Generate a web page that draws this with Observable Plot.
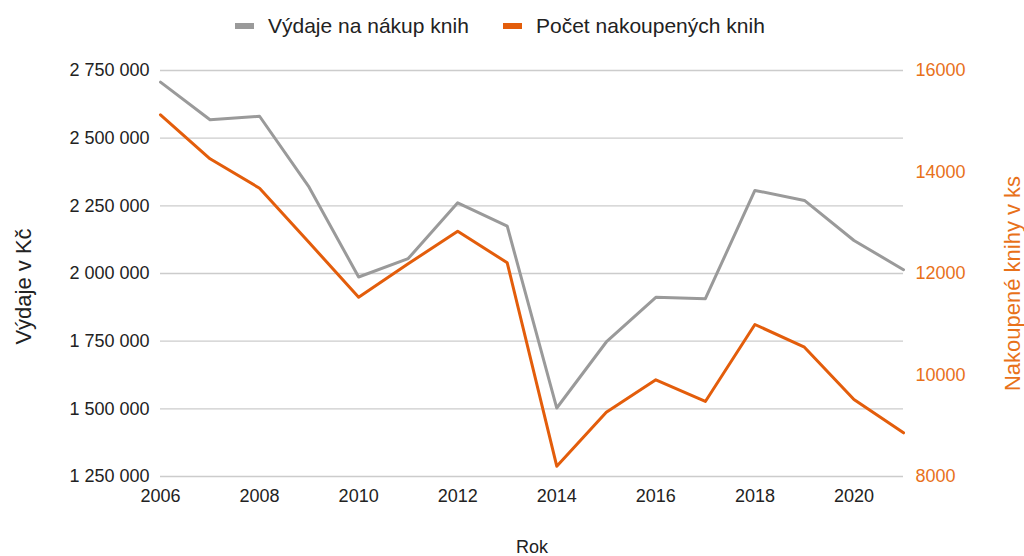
<!DOCTYPE html>
<html>
<head>
<meta charset="utf-8">
<script src="https://cdn.jsdelivr.net/npm/d3@7"></script>
<script src="https://cdn.jsdelivr.net/npm/@observablehq/plot@0.6"></script>
<style>
  html, body { margin: 0; padding: 0; background: #fff; }
  body { width: 1024px; height: 556px; overflow: hidden; font-family: "Liberation Sans", Arial, sans-serif; }
  #legend { position: relative; height: 50px; font-size: 21px; color: #222; }
  .item { position: absolute; top: 0; height: 52px; display: flex; align-items: center; white-space: nowrap; }
  .sw { width: 19px; height: 6px; margin-right: 14px; }
</style>
</head>
<body>
<div id="legend"></div>
<div id="chart"></div>
<script>
const years = [2006, 2007, 2008, 2009, 2010, 2011, 2012, 2013, 2014, 2015, 2016, 2017, 2018, 2019, 2020, 2021];
const spending = [2707000, 2568000, 2581000, 2319000, 1987000, 2055000, 2261000, 2175000, 1503000, 1747000, 1912000, 1907000, 2307000, 2270000, 2122000, 2014000];
const books = [15127, 14260, 13681, 12610, 11533, 12191, 12834, 12211, 8203, 9267, 9905, 9478, 10995, 10548, 9517, 8861];
const seriesNames = ["Výdaje na nákup knih", "Počet nakoupených knih"];
const seriesColors = ["#9a9a9a", "#e35d0b"];
const leftTicks = [1250000, 1500000, 1750000, 2000000, 2250000, 2500000, 2750000];
const rightTicks = [8000, 10000, 12000, 14000, 16000];
const xTicks = [2006, 2008, 2010, 2012, 2014, 2016, 2018, 2020];
const leftTitle = "Výdaje v Kč";
const rightTitle = "Nakoupené knihy v ks";
const xTitle = "Rok";

const leftDomain = [1250000, 2750000];
const rightDomain = [8000, 16000];
const toLeft = v => leftDomain[0] + (v - rightDomain[0]) / (rightDomain[1] - rightDomain[0]) * (leftDomain[1] - leftDomain[0]);
const fromLeft = v => rightDomain[0] + (v - leftDomain[0]) / (leftDomain[1] - leftDomain[0]) * (rightDomain[1] - rightDomain[0]);
const spaceFmt = v => d3.format(",")(v).replace(/,/g, " ");

const legend = document.getElementById("legend");
const legendLeft = [235, 503];
seriesNames.forEach((n, i) => {
  const it = document.createElement("div");
  it.className = "item";
  it.style.left = legendLeft[i] + "px";
  it.innerHTML = `<span class="sw" style="background:${seriesColors[i]}"></span><span>${n}</span>`;
  legend.appendChild(it);
});

const spendData = years.map((y, i) => ({year: y, value: spending[i]}));
const bookData = years.map((y, i) => ({year: y, value: toLeft(books[i])}));

const chart = Plot.plot({
  width: 1024,
  height: 506,
  marginTop: 20,
  marginBottom: 80,
  marginLeft: 160,
  marginRight: 121,
  style: {fontFamily: "Liberation Sans, Arial, sans-serif", fontSize: "18px", color: "#222", background: "#fff"},
  x: {domain: [2006, 2021]},
  y: {domain: leftDomain},
  marks: [
    Plot.gridY(leftTicks, {stroke: "#cccccc", strokeOpacity: 1, strokeWidth: 1.3}),
    Plot.axisY({ticks: leftTicks, tickFormat: spaceFmt, tickSize: 0, tickPadding: 11, label: null, fontSize: 18}),
    Plot.axisY({anchor: "right", ticks: rightTicks.map(toLeft), tickFormat: v => String(Math.round(fromLeft(v))), tickSize: 0, tickPadding: 12, color: "#e8711a", label: null, fontSize: 18}),
    Plot.axisX({ticks: xTicks, tickFormat: d => String(d), tickSize: 0, tickPadding: 13, label: null, fontSize: 18}),
    Plot.text([leftTitle], {frameAnchor: "left", rotate: -90, dx: -137, dy: 13, fontSize: 22, fill: "#222", textAnchor: "middle", lineAnchor: "middle"}),
    Plot.text([rightTitle], {frameAnchor: "right", rotate: -90, dx: 109, dy: 10, fontSize: 22, fill: "#e8711a", textAnchor: "middle", lineAnchor: "middle"}),
    Plot.text([xTitle], {frameAnchor: "bottom", dy: 71, fontSize: 18, fill: "#222", textAnchor: "middle", lineAnchor: "middle"}),
    Plot.line(spendData, {x: "year", y: "value", stroke: seriesColors[0], strokeWidth: 3}),
    Plot.line(bookData, {x: "year", y: "value", stroke: seriesColors[1], strokeWidth: 3})
  ]
});
document.getElementById("chart").appendChild(chart);
</script>
</body>
</html>
